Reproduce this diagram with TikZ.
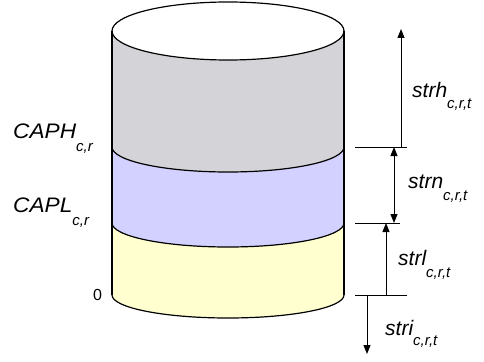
\documentclass[tikz,border=0pt]{standalone}
\usepackage{fontspec}
\setmainfont{Liberation Sans}
\usetikzlibrary{arrows.meta}
\definecolor{grayband}{RGB}{212,211,215}
\definecolor{lavband}{RGB}{211,209,255}
\definecolor{yelband}{RGB}{255,255,208}
\newcommand{\mainsz}{\fontsize{21}{21}\selectfont\itshape}
\newcommand{\subsz}{\fontsize{15}{15}\selectfont\itshape}
\newcommand{\lab}[3]{\mainsz #1\raisebox{-#3pt}{\subsz #2}}
\newcommand{\widecap}[1]{\scalebox{1.08}[1]{\mainsz #1}}
\begin{document}
\begin{tikzpicture}[x=1pt,y=-1pt,
  outline/.style={draw=black,line width=1.2pt},
  dimline/.style={draw=black,line width=1pt},
  arr/.style={dimline,-{Triangle[length=9pt,width=7pt]}},
  darr/.style={dimline,{Triangle[length=9pt,width=7pt]}-{Triangle[length=9pt,width=7pt]}},
  lbl/.style={anchor=base west,inner sep=0pt}]
\useasboundingbox (0,0) rectangle (484,361);
% bands
\fill[yelband] (112,223) -- (112,295) arc[start angle=180,end angle=360,x radius=116pt,y radius=23pt]
  -- (344,223) arc[start angle=360,end angle=180,x radius=116pt,y radius=24pt] -- cycle;
\fill[lavband] (112,147) -- (112,223) arc[start angle=180,end angle=360,x radius=116pt,y radius=24pt]
  -- (344,147) arc[start angle=360,end angle=180,x radius=116pt,y radius=25pt] -- cycle;
\fill[grayband] (112,31) -- (112,147) arc[start angle=180,end angle=360,x radius=116pt,y radius=25pt]
  -- (344,31) arc[start angle=360,end angle=180,x radius=116pt,y radius=29pt] -- cycle;
% outlines
\draw[outline,fill=white] (228,31) ellipse[x radius=116pt,y radius=29pt];
\draw[outline] (112,31) -- (112,295);
\draw[outline] (344,31) -- (344,295);
\draw[outline] (112,147) arc[start angle=180,end angle=360,x radius=116pt,y radius=25pt];
\draw[outline] (112,223) arc[start angle=180,end angle=360,x radius=116pt,y radius=24pt];
\draw[outline] (112,295) arc[start angle=180,end angle=360,x radius=116pt,y radius=23pt];
% dimension coordinates
\coordinate (t1a) at (355,147); \coordinate (t1b) at (407,147);
\coordinate (t2a) at (355,223); \coordinate (t2b) at (400,223);
\coordinate (t3a) at (355,295); \coordinate (t3b) at (407,295);
\coordinate (hB) at (401,147); \coordinate (hT) at (401,29);
\coordinate (nT) at (394,147); \coordinate (nB) at (394,223);
\coordinate (lB) at (386,295); \coordinate (lT) at (386,223);
\coordinate (iT) at (367,295); \coordinate (iB) at (367,354);
\draw[dimline] (t1a) -- (t1b);
\draw[dimline] (t2a) -- (t2b);
\draw[dimline] (t3a) -- (t3b);
\draw[arr] (hB) -- (hT);
\draw[darr] (nT) -- (nB);
\draw[arr] (lB) -- (lT);
\draw[arr] (iT) -- (iB);
% labels
\node[lbl] (strh) at (412,97) {\lab{strh}{c,r,t}{11}};
\node[lbl] (strn) at (408,188) {\lab{strn}{c,r,t}{12}};
\node[lbl] (strl) at (398,265) {\lab{strl}{c,r,t}{12}};
\node[lbl] (stri) at (385,335) {\lab{stri}{c,r,t}{10}};
\node[lbl] (caph) at (13,138) {\widecap{CAPH}\raisebox{-13pt}{\subsz c,r}};
\node[lbl] (capl) at (13,212) {\widecap{CAPL}\raisebox{-13pt}{\subsz c,r}};
\node[lbl] (zero) at (93,300) {\fontsize{16}{16}\selectfont 0};
\end{tikzpicture}
\end{document}
